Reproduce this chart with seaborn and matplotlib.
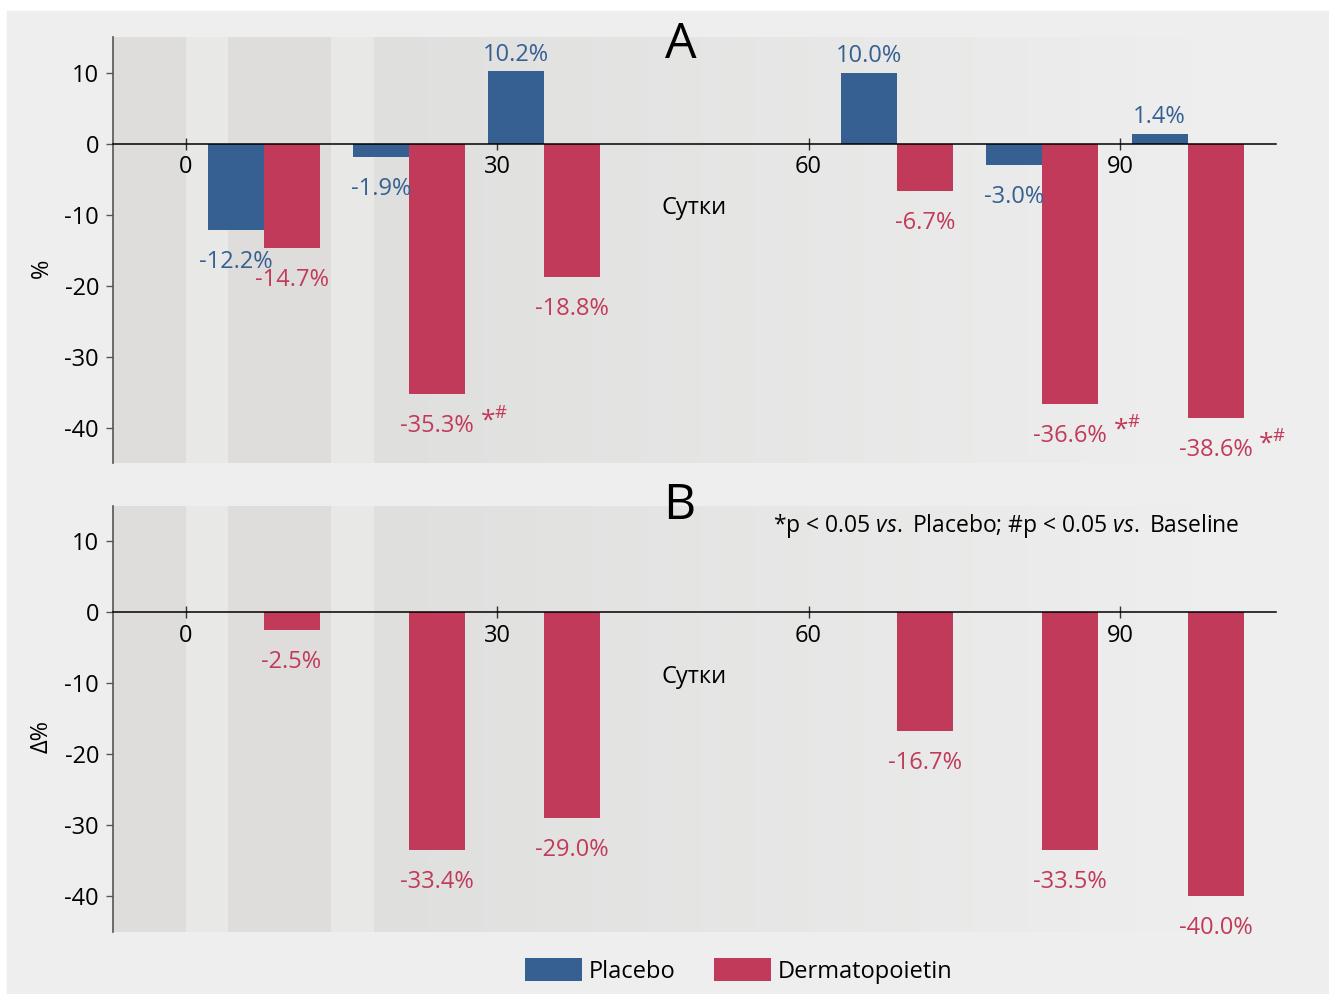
import numpy as np
import pandas as pd
import matplotlib.pyplot as plt
import seaborn as sns
from matplotlib.colors import LinearSegmentedColormap, to_rgba
from matplotlib.patches import Rectangle

# Data
days = [7.5, 21.5, 34.5, 68.5, 82.5, 96.5]
placebo_a = [-12.2, -1.9, 10.2, 10.0, -3.0, 1.4]
derma_a = [-14.7, -35.3, -18.8, -6.7, -36.6, -38.6]
derma_b = [-2.5, -33.4, -29.0, -16.7, -33.5, -40.0]
sig_a = ['', '*#', '', '', '*#', '*#']
groups = ['Placebo', 'Dermatopoietin']
colors = {'Placebo': '#376092', 'Dermatopoietin': '#c23a5a'}

# shaded periods (days)
dark_bands = [(-7, 0), (4.1, 14)]
light_bands = [(0, 4.1), (14, 18.1)]
grad_band = (18.1, 97)

df_a = pd.DataFrame({
    'day': days * 2,
    'value': placebo_a + derma_a,
    'group': ['Placebo'] * len(days) + ['Dermatopoietin'] * len(days),
})
df_b = pd.DataFrame({'day': days, 'value': derma_b, 'group': 'Dermatopoietin'})

sns.set_style('ticks')
plt.rcParams['font.family'] = ['Open Sans', 'DejaVu Sans']
plt.rcParams['axes.unicode_minus'] = False
plt.rcParams['text.color'] = 'black'
plt.rcParams['axes.labelcolor'] = 'black'
plt.rcParams['mathtext.fontset'] = 'custom'
plt.rcParams['mathtext.rm'] = 'Open Sans'
plt.rcParams['mathtext.it'] = 'Open Sans:italic'

FS = 17
bg = '#edeeed'
grad_cmap = LinearSegmentedColormap.from_list('g', ['#dfdfde', bg])
derma_rgba = to_rgba(colors['Dermatopoietin'])

fig = plt.figure(figsize=(13.29, 9.94), dpi=100, facecolor='white')
fig.add_artist(Rectangle((7 / 1329, 0), 1, (994 - 11) / 994, transform=fig.transFigure,
                         color=bg, zorder=-10))

ax_a = fig.add_axes([0.085, 0.534, 0.875, 0.4286])
ax_b = fig.add_axes([0.085, 0.0624, 0.875, 0.4286])


def style_axis(ax, ylabel):
    ax.set_facecolor('none')
    for x0, x1 in dark_bands:
        ax.axvspan(x0, x1, color='#dedddb', lw=0, zorder=0)
    for x0, x1 in light_bands:
        ax.axvspan(x0, x1, color='#e8e8e6', lw=0, zorder=0)
    ax.imshow(np.linspace(0, 1, 256)[None, :], extent=[grad_band[0], grad_band[1], -45, 15],
              aspect='auto', cmap=grad_cmap, zorder=0)
    ax.set_xlim(-7, 105)
    ax.set_ylim(-45, 15)
    ax.spines['top'].set_visible(False)
    ax.spines['right'].set_visible(False)
    ax.spines['bottom'].set_position(('data', 0))
    ax.spines['bottom'].set_color('black')
    ax.spines['bottom'].set_linewidth(1.1)
    ax.spines['bottom'].set_zorder(3)
    ax.spines['left'].set_color('#555555')
    ax.spines['left'].set_linewidth(1.2)
    ax.set_xticks([0, 30, 60, 90])
    ax.set_yticks([-40, -30, -20, -10, 0, 10])
    ax.tick_params(axis='x', direction='inout', length=9, width=1, color='#333333',
                   pad=4, labelsize=FS, labelcolor='black')
    ax.tick_params(axis='y', direction='out', length=5, width=1, color='#555555',
                   pad=5, labelsize=FS, labelcolor='black')
    ax.set_xlabel('Сутки', fontsize=FS, labelpad=12, color='black')
    ax.set_ylabel(ylabel, fontsize=FS, va='center', color='black')
    ax.yaxis.set_label_coords(-0.061, 0.458)


def label_bars(ax, sig=None):
    for cont in ax.containers:
        for i, bar in enumerate(cont):
            h = bar.get_height()
            if np.isnan(h):
                continue
            x = bar.get_x() + bar.get_width() / 2
            col = bar.get_facecolor()
            off = 12 if h > 0 else -23
            ax.annotate(f'{h:.1f}%', (x, h), xytext=(0, off), textcoords='offset points',
                        ha='center', va='center', color=col, fontsize=FS)
            is_derma = np.allclose(col, derma_rgba, atol=0.01)
            if sig is not None and is_derma and sig[i]:
                ax.annotate(r'*$^{\#}$', (x, h), xytext=(41, -19), textcoords='offset points',
                            ha='center', va='center', color=col, fontsize=19)


sns.barplot(data=df_a, x='day', y='value', hue='group', hue_order=groups, palette=colors,
            native_scale=True, width=0.83, linewidth=0, saturation=1, errorbar=None,
            zorder=2, ax=ax_a)
sns.barplot(data=df_b, x='day', y='value', hue='group', hue_order=groups, palette=colors,
            native_scale=True, width=0.83, linewidth=0, saturation=1, errorbar=None,
            dodge=True, zorder=2, ax=ax_b, legend=False)

leg = ax_a.get_legend()
handles = leg.legend_handles
labels = [t.get_text() for t in leg.get_texts()]
leg.remove()

style_axis(ax_a, '%')
style_axis(ax_b, 'Δ%')
label_bars(ax_a, sig_a)
label_bars(ax_b)

ax_a.text(0.488, 0.98, 'A', transform=ax_a.transAxes, ha='center', va='center', fontsize=36)
ax_b.text(0.487, 1.0, 'B', transform=ax_b.transAxes, ha='center', va='center', fontsize=36)
ax_b.text(0.969, 0.953, r'*p < 0.05 $\it{vs.}$ Placebo; #p < 0.05 $\it{vs.}$ Baseline',
          transform=ax_b.transAxes, ha='right', va='center', fontsize=16.5)

fig.legend(handles, labels, loc='center', bbox_to_anchor=(0.556, 0.023), ncol=2,
           frameon=False, fontsize=FS, handlelength=2.4, handleheight=1.1,
           handletextpad=0.3, columnspacing=1.65)

fig.savefig('out.png', dpi=100, facecolor=fig.get_facecolor())
